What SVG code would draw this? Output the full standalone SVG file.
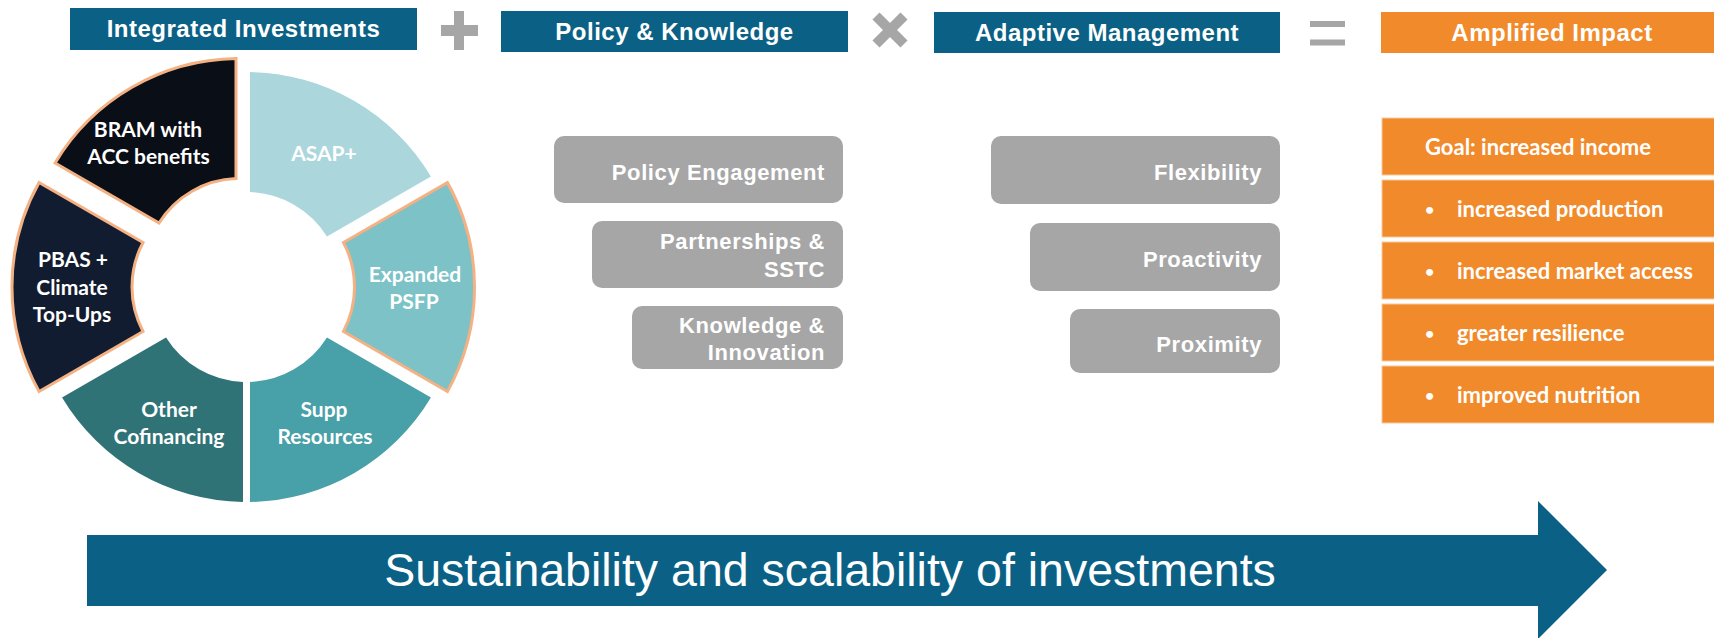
<svg xmlns="http://www.w3.org/2000/svg" width="1714" height="638" viewBox="0 0 1714 638">
<style>
.hdr{fill:#0B6185}
.hdrt{font-family:"Liberation Sans",Arial,sans-serif;font-weight:bold;font-size:24px;fill:#fff;text-anchor:middle;letter-spacing:0.5px}
.op{fill:#A6A6A6}
.gbox{fill:#A6A6A6}
.gt{font-family:"Liberation Sans",Arial,sans-serif;font-weight:bold;font-size:22px;fill:#fff;text-anchor:end;letter-spacing:0.6px}
.orow{fill:#F18A2B;stroke:#F9C79C;stroke-width:1}
.ot{font-family:Lato,"Open Sans",sans-serif;font-weight:bold;font-size:22px;fill:#fff}
.bul{font-family:Lato,"Open Sans",sans-serif;font-weight:bold;font-size:16px;fill:#fff}
.seg{stroke:none}
.ex{stroke:#F4B183;stroke-width:3;stroke-linejoin:miter}
.pt{font-family:Lato,"Open Sans",sans-serif;font-weight:bold;font-size:21px;fill:#fff;text-anchor:middle}
.arrt{font-family:"Liberation Sans",Arial,sans-serif;font-size:46.5px;fill:#fff;text-anchor:middle}
</style>
<defs>
<path id="sector" d="M250,72.03 A215,215 0 0 1 430.95,176.47 L326.97,236.5 A95,95 0 0 0 250,192.06 Z"/>
</defs>
<rect width="1714" height="638" fill="#fff"/>

<g id="header-integrated">
<rect class="hdr" x="70" y="8" width="347" height="42"/>
<text class="hdrt" x="243.5" y="37">Integrated Investments</text>
</g>
<g id="op-plus">
<rect class="op" x="454" y="11" width="10" height="39"/>
<rect class="op" x="441" y="25" width="37" height="11"/>
</g>
<g id="header-policy">
<rect class="hdr" x="501" y="11" width="347" height="41"/>
<text class="hdrt" x="674.5" y="40">Policy &amp; Knowledge</text>
</g>
<g id="op-times">
<line x1="876" y1="16" x2="904" y2="44" stroke="#A6A6A6" stroke-width="10"/>
<line x1="904" y1="16" x2="876" y2="44" stroke="#A6A6A6" stroke-width="10"/>
</g>
<g id="header-adaptive">
<rect class="hdr" x="934" y="12" width="346" height="41"/>
<text class="hdrt" x="1107" y="41">Adaptive Management</text>
</g>
<g id="op-equals">
<rect class="op" x="1310" y="21" width="35" height="6"/>
<rect class="op" x="1310" y="39.5" width="35" height="6"/>
</g>
<g id="header-impact">
<rect x="1381" y="12" width="340" height="41" fill="#F18A2B"/>
<text class="hdrt" x="1552" y="41">Amplified Impact</text>
</g>

<g id="seg-asap">
<use href="#sector" class="seg" fill="#ABD7DC"/>
<text class="pt" x="324" y="161">ASAP+</text>
</g>
<g id="seg-psfp">
<use href="#sector" class="ex" fill="#7CC2C7" transform="translate(13,0) rotate(60 246.5 287)"/>
<text class="pt" x="415" y="282">Expanded</text>
<text class="pt" x="414" y="309">PSFP</text>
</g>
<g id="seg-supp">
<use href="#sector" class="seg" fill="#48A0A8" transform="rotate(120 246.5 287)"/>
<text class="pt" x="324" y="417">Supp</text>
<text class="pt" x="325" y="444">Resources</text>
</g>
<g id="seg-other">
<use href="#sector" class="seg" fill="#307377" transform="rotate(180 246.5 287)"/>
<text class="pt" x="169" y="417">Other</text>
<text class="pt" x="169" y="444">Cofinancing</text>
</g>
<g id="seg-pbas">
<use href="#sector" class="ex" fill="#121C30" transform="translate(-19.5,0) rotate(240 246.5 287)"/>
<text class="pt" x="73" y="267">PBAS +</text>
<text class="pt" x="72" y="295">Climate</text>
<text class="pt" x="72" y="322">Top-Ups</text>
</g>
<g id="seg-bram">
<use href="#sector" class="ex" fill="#0A0E16" transform="translate(-7,-13.5) rotate(300 246.5 287)"/>
<text class="pt" x="148" y="137">BRAM with</text>
<text class="pt" x="148.5" y="164">ACC benefits</text>
</g>

<g id="pk-policy-engagement">
<rect class="gbox" x="554" y="136" width="289" height="67" rx="10"/>
<text class="gt" x="825" y="180">Policy Engagement</text>
</g>
<g id="pk-partnerships">
<rect class="gbox" x="592" y="221" width="251" height="67" rx="10"/>
<text class="gt" x="825" y="249">Partnerships &amp;</text>
<text class="gt" x="825" y="277">SSTC</text>
</g>
<g id="pk-knowledge">
<rect class="gbox" x="632" y="306" width="211" height="63" rx="10"/>
<text class="gt" x="825" y="333">Knowledge &amp;</text>
<text class="gt" x="825" y="360">Innovation</text>
</g>

<g id="am-flexibility">
<rect class="gbox" x="991" y="136" width="289" height="68" rx="10"/>
<text class="gt" x="1262" y="180">Flexibility</text>
</g>
<g id="am-proactivity">
<rect class="gbox" x="1030" y="223" width="250" height="68" rx="10"/>
<text class="gt" x="1262" y="267">Proactivity</text>
</g>
<g id="am-proximity">
<rect class="gbox" x="1070" y="309" width="210" height="64" rx="10"/>
<text class="gt" x="1262" y="352">Proximity</text>
</g>

<g id="impact-goal">
<rect class="orow" x="1382" y="118" width="340" height="57"/>
<text class="ot" x="1425" y="155">Goal: increased income</text>
</g>
<g id="impact-production">
<rect class="orow" x="1382" y="180" width="340" height="57"/>
<text class="bul" x="1425" y="215">•</text>
<text class="ot" x="1457" y="217">increased production</text>
</g>
<g id="impact-market">
<rect class="orow" x="1382" y="242" width="340" height="57"/>
<text class="bul" x="1425" y="277">•</text>
<text class="ot" x="1457" y="279">increased market access</text>
</g>
<g id="impact-resilience">
<rect class="orow" x="1382" y="304" width="340" height="57"/>
<text class="bul" x="1425" y="339">•</text>
<text class="ot" x="1457" y="341">greater resilience</text>
</g>
<g id="impact-nutrition">
<rect class="orow" x="1382" y="366" width="340" height="57"/>
<text class="bul" x="1425" y="401">•</text>
<text class="ot" x="1457" y="403">improved nutrition</text>
</g>

<g id="connectors">
<g id="arrow-sustainability">
<polygon points="87,535 1538,535 1538,501 1607,570 1538,639 1538,606 87,606" fill="#0B6185"/>
<text class="arrt" x="830" y="586">Sustainability and scalability of investments</text>
</g>
</g>
</svg>
